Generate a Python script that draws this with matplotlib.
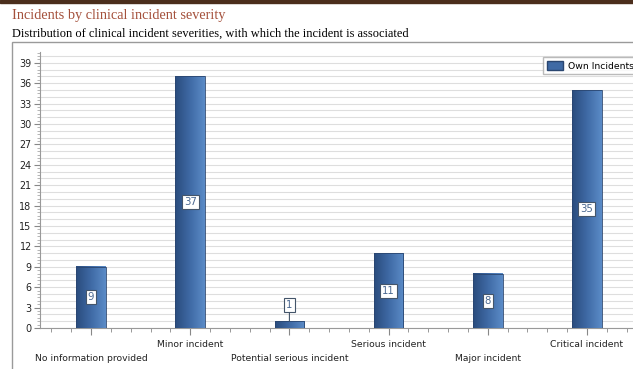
import numpy as np
import matplotlib.pyplot as plt
from matplotlib.patches import Rectangle, Patch
from matplotlib.ticker import MultipleLocator
from matplotlib.colors import LinearSegmentedColormap

categories = ['No information provided', 'Minor incident', 'Potential serious incident',
              'Serious incident', 'Major incident', 'Critical incident']
values = [9, 37, 1, 11, 8, 35]
yticks = list(range(0, 40, 3))

W, H = 633, 369
fig = plt.figure(figsize=(W / 100, H / 100), dpi=100)

# page decoration
fig.patches.append(Rectangle((0, 1 - 3 / H), 1, 3 / H, transform=fig.transFigure,
                             color='#4b2e1c', zorder=0))
fig.patches.append(Rectangle((12 / W, -0.1), 1.0, 0.1 + 1 - 42 / H, transform=fig.transFigure,
                             fill=False, edgecolor='#9a9a9a', lw=1.0, zorder=0))
fig.text(12 / W, 1 - 15 / H, 'Incidents by clinical incident severity', family='Liberation Serif',
         fontsize=10.3, color='#a4503b', va='center')
fig.text(12 / W, 1 - 34 / H, 'Distribution of clinical incident severities, with which the incident is associated',
         family='Liberation Serif', fontsize=8.9, color='black', va='center')

ax = fig.add_axes([40 / W, 1 - 328 / H, 598 / W, 276 / H])
ax.set_xlim(-0.515, len(categories) - 0.485)
ax.set_ylim(0, 40.6)

cmap = LinearSegmentedColormap.from_list('bar', ['#2a4c7d', '#3f6aa5', '#5b8bc7'])
grad = np.linspace(0, 1, 64).reshape(1, -1)
bw = 0.30
for i, v in enumerate(values):
    ax.imshow(grad, cmap=cmap, aspect='auto', extent=[i - bw / 2, i + bw / 2, 0, v],
              zorder=3, interpolation='bilinear')
    ax.add_patch(Rectangle((i - bw / 2, 0), bw, v, fill=False, edgecolor='#2a4670', lw=0.6, zorder=4))
    box = dict(boxstyle='square,pad=0.2', fc='white', ec='#44556a', lw=0.8)
    if v >= 4:
        ax.text(i, v / 2, str(v), ha='center', va='center', fontsize=7.3, color='#4a6890',
                bbox=box, zorder=5)
    else:
        ax.annotate(str(v), xy=(i, v), xytext=(0, 11.5), textcoords='offset points',
                    ha='center', va='center', fontsize=7.3, color='#4a6890', bbox=box, zorder=5,
                    arrowprops=dict(arrowstyle='-', color='#44556a', lw=0.8, shrinkA=0, shrinkB=0))

ax.set_xticks(range(len(categories)))
ax.set_xticklabels(['\n' + c if i % 2 == 0 else c for i, c in enumerate(categories)],
                   fontsize=6.7, color='#222222', linespacing=1.75)
ax.xaxis.set_minor_locator(MultipleLocator(0.2))
ax.set_yticks(yticks)
ax.set_yticklabels([str(t) for t in yticks], fontsize=6.9, color='#222222')
ax.yaxis.set_minor_locator(MultipleLocator(0.5))
ax.tick_params(axis='x', which='major', length=5, color='#888888', pad=3.5)
ax.tick_params(axis='x', which='minor', length=3, color='#888888')
ax.tick_params(axis='y', which='major', length=4, color='#888888', pad=2)
ax.tick_params(axis='y', which='minor', length=2, color='#aaaaaa')

for y in range(0, 41):
    ax.axhline(y, color='#dedede', lw=0.8, zorder=1)
for s in ['top', 'right']:
    ax.spines[s].set_visible(False)
ax.spines['left'].set_color('#999999')
ax.spines['bottom'].set_color('#999999')

fig.legend(handles=[Patch(facecolor='#3f6aa5', edgecolor='#2a4670', label='Own Incidents')],
           loc='upper left', bbox_to_anchor=(543 / W, 1 - 57 / H), fontsize=6.7,
           frameon=True, fancybox=False, edgecolor='#aaaaaa', borderpad=0.4,
           handlelength=1.8, handleheight=1.2, handletextpad=0.5, borderaxespad=0)

fig.savefig('out.png', dpi=100)
